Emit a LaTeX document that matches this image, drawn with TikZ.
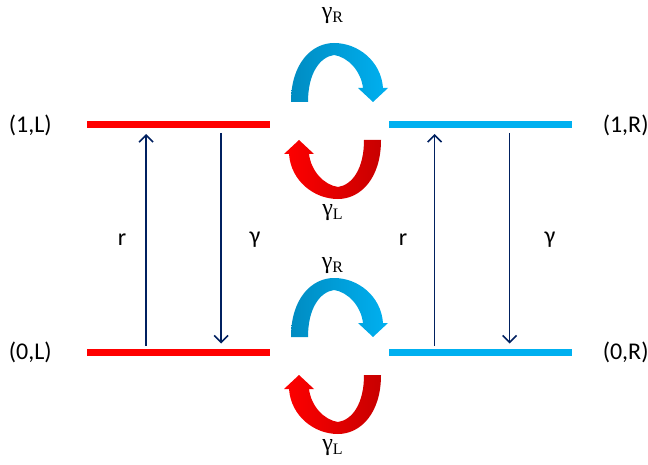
\documentclass[tikz,border=0pt]{standalone}
\usepackage{fontspec}
\setmainfont{Carlito}
\newfontfamily\grkfont{Liberation Serif}
\usetikzlibrary{arrows.meta,positioning}

\definecolor{lred}{RGB}{255,0,0}
\definecolor{dred}{RGB}{200,0,0}
\definecolor{lblue}{RGB}{0,176,240}
\definecolor{dblue}{RGB}{0,140,194}
\definecolor{navy}{RGB}{0,32,96}

\tikzset{
  lvl/.style={minimum width=91.5pt,minimum height=3.5pt,inner sep=0pt},
  trans/.style={navy,line width=0.85pt,-{Straight Barb[length=3.5pt,width=7pt]}},
  lbl/.style={font=\fontsize{12}{14}\selectfont,inner sep=1pt},
  ratelbl/.style={font=\fontsize{12}{14}\selectfont\grkfont,inner sep=1pt},
  pics/hoparrow/.style 2 args={code={
    \shade[left color=#1,right color=#2] (-45,19) .. controls (-45,58) and (-24,78) .. (-2,78)
      .. controls (22,78) and (45,60) .. (47,33) -- (52,33) -- (37,19) -- (22,33) -- (27,33)
      .. controls (25,50) and (12,64) .. (-2,66) .. controls (-16,64) and (-28,48) .. (-28,19) -- cycle;
  }}
}

\begin{document}
\begin{tikzpicture}[x=0.5pt,y=0.5pt]
\useasboundingbox (0,0) rectangle (648,-465);

% energy levels
\node[lvl,fill=lred] (l1L) at (178,-125) {};
\node[lvl,fill=lred] (l0L) at (178,-352.5) {};
\node[lvl,fill=lblue] (l1R) at (480.5,-125) {};
\node[lvl,fill=lblue] (l0R) at (480.5,-352.5) {};

\node[lbl,left=16pt of l1L] (t1L) {(1,L)};
\node[lbl,left=16pt of l0L] (t0L) {(0,L)};
\node[lbl,right=14pt of l1R] (t1R) {(1,R)};
\node[lbl,right=14pt of l0R] (t0R) {(0,R)};

% transitions inside each well
\draw[trans] ([xshift=30pt,yshift=1.5pt]l0L.north west) -- ([xshift=30pt,yshift=-2.5pt]l1L.south west);
\draw[trans] ([xshift=67.5pt,yshift=-2pt]l1L.south west) -- ([xshift=67.5pt,yshift=2.5pt]l0L.north west);
\draw[trans] ([xshift=23pt,yshift=1.5pt]l0R.north west) -- ([xshift=23pt,yshift=-2.5pt]l1R.south west);
\draw[trans] ([xshift=60.5pt,yshift=-2pt]l1R.south west) -- ([xshift=60.5pt,yshift=2.5pt]l0R.north west);

\node[lbl] (rL) at (122,-240) {r};
\node[lbl] (gL) at (255,-240) {γ};
\node[lbl] (rR) at (403,-240) {r};
\node[lbl] (gR) at (550,-240) {γ};

% hopping between the wells
\pic at (336,-121) {hoparrow={dblue}{lblue}};
\pic[rotate=180] at (336,-121) {hoparrow={lred}{dred}};
\pic at (336,-356) {hoparrow={dblue}{lblue}};
\pic[rotate=180] at (336,-356) {hoparrow={lred}{dred}};

\node[ratelbl] (hR1) at (333,-16) {γ\textsubscript{R}};
\node[ratelbl] (hL1) at (333,-213) {γ\textsubscript{L}};
\node[ratelbl] (hR0) at (333,-266) {γ\textsubscript{R}};
\node[ratelbl] (hL0) at (333,-448) {γ\textsubscript{L}};
\end{tikzpicture}
\end{document}
